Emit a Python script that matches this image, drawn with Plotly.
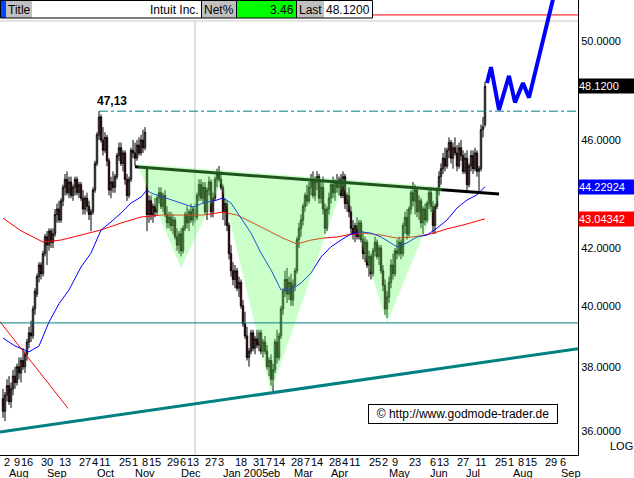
import math
import pandas as pd
import plotly.graph_objects as go

# ---------------- data ----------------
holidays = ["2004-09-06", "2004-11-25", "2004-12-24", "2005-01-17",
            "2005-02-21", "2005-03-25", "2005-05-30", "2005-07-04"]
trading_days = [d.strftime("%Y-%m-%d") for d in pd.bdate_range("2004-07-29", "2005-07-13")
                if d.strftime("%Y-%m-%d") not in holidays]

opens = [
    37.0, 36.6, 37.1, 37.4, 36.9, 37.3, 37.7, 37.5, 38.0, 37.8,
    38.2, 38.0, 38.4, 38.8, 39.1, 39.0, 39.9, 40.4, 41.0, 41.4,
    41.1, 41.8, 42.4, 42.1, 42.6, 42.2, 42.5, 43.2, 43.4, 43.0,
    43.7, 44.2, 44.5, 44.0, 44.4, 43.9, 44.2, 44.5, 44.0, 44.3,
    43.8, 43.4, 43.8, 43.5, 43.2, 43.3, 44.1, 45.1, 46.2, 46.9,
    46.0, 45.6, 46.1, 45.2, 44.1, 44.4, 44.2, 44.6, 45.4, 45.7,
    45.1, 45.5, 44.5, 43.9, 44.5, 45.6, 45.5, 45.3, 45.8, 45.5,
    46.0, 45.7, 44.9, 43.2, 43.7, 43.2, 43.5, 43.3, 43.8, 44.0,
    43.5, 43.9, 43.2, 42.9, 43.1, 42.8, 43.0, 42.4, 42.1, 42.5,
    41.9, 42.7, 43.2, 42.9, 43.3, 43.0, 43.4, 43.1, 43.9, 44.3,
    43.8, 44.2, 43.3, 44.1, 44.4, 43.3, 43.8, 44.5, 44.7, 44.5,
    44.2, 43.3, 43.6, 42.8, 41.8, 41.2, 40.9, 41.2, 40.6, 40.8,
    40.0, 39.4, 39.0, 38.3, 38.5, 39.1, 38.6, 38.9, 38.7, 39.1,
    38.5, 38.8, 38.5, 38.0, 38.2, 37.6, 37.9, 38.8, 38.3, 39.0,
    39.9, 40.5, 40.9, 40.4, 40.8, 40.2, 40.7, 41.2, 42.3, 42.7,
    43.0, 43.5, 43.9, 43.7, 44.2, 44.5, 43.9, 44.4, 44.6, 43.8,
    44.2, 43.4, 42.7, 43.4, 43.8, 44.3, 44.0, 44.4, 44.2, 44.5,
    43.9, 44.6, 43.6, 43.9, 43.3, 42.7, 42.5, 42.8, 42.4, 42.9,
    42.3, 41.8, 42.2, 41.4, 41.7, 41.1, 41.9, 42.2, 41.7, 42.0,
    41.2, 40.7, 39.9, 40.3, 40.8, 41.4, 41.1, 41.9, 41.8, 42.2,
    41.8, 42.8, 43.1, 42.5, 43.4, 44.0, 43.7, 44.1, 43.3, 43.7,
    42.9, 43.4, 43.0, 43.6, 44.0, 43.5, 42.8, 43.5, 44.1, 44.6,
    44.9, 45.3, 45.0, 45.6, 45.9, 45.3, 45.7, 45.5, 45.0, 45.7,
    45.4, 44.8, 45.3, 44.3, 45.0, 45.4, 44.9, 45.5, 44.8, 44.9,
    46.4, 46.6]
highs = [
    37.3, 37.2, 37.6, 37.7, 37.5, 37.9, 38.0, 38.1, 38.3, 38.3,
    38.6, 38.5, 38.9, 39.3, 39.5, 40.0, 40.6, 41.1, 41.5, 41.5,
    41.9, 42.5, 42.6, 42.7, 42.7, 42.7, 43.4, 43.6, 43.7, 43.8,
    44.3, 44.7, 44.8, 44.6, 44.6, 44.3, 44.6, 44.6, 44.4, 44.4,
    44.1, 43.9, 44.0, 43.7, 43.4, 44.2, 45.2, 46.3, 47.13, 47.0,
    46.5, 46.3, 46.2, 45.3, 44.6, 44.8, 44.7, 45.5, 45.9, 45.9,
    45.6, 45.6, 44.7, 44.6, 45.7, 46.0, 45.9, 46.0, 46.1, 46.2,
    46.4, 46.5, 45.0, 43.9, 43.9, 43.6, 43.8, 43.9, 44.2, 44.2,
    44.0, 44.1, 43.5, 43.3, 43.3, 43.2, 43.1, 42.7, 42.6, 42.7,
    42.8, 43.3, 43.5, 43.4, 43.6, 43.5, 43.6, 44.0, 44.5, 44.5,
    44.4, 44.4, 44.2, 44.6, 44.5, 44.0, 44.6, 44.9, 45.0, 44.8,
    44.3, 43.8, 43.7, 42.9, 42.1, 41.5, 41.4, 41.3, 41.0, 40.9,
    40.2, 39.8, 39.3, 38.6, 39.2, 39.2, 39.0, 39.2, 39.2, 39.2,
    38.9, 39.0, 38.7, 38.3, 38.4, 38.1, 38.9, 39.2, 39.1, 40.0,
    40.6, 41.2, 41.3, 41.0, 41.1, 40.9, 41.3, 42.4, 42.9, 43.2,
    43.6, 44.0, 44.3, 44.4, 44.7, 44.8, 44.6, 44.8, 44.7, 44.4,
    44.6, 43.6, 43.5, 44.0, 44.4, 44.6, 44.5, 44.7, 44.6, 44.7,
    44.8, 44.7, 44.0, 44.2, 43.5, 43.0, 42.9, 43.1, 43.0, 43.0,
    42.6, 42.4, 42.3, 41.9, 41.8, 42.0, 42.4, 42.3, 42.1, 42.1,
    41.4, 40.9, 40.5, 41.0, 41.6, 41.8, 42.0, 42.3, 42.4, 42.3,
    42.9, 43.3, 43.4, 43.5, 44.1, 44.4, 44.3, 44.2, 43.9, 43.8,
    43.5, 43.6, 43.7, 44.2, 44.2, 43.7, 43.6, 44.2, 44.8, 45.1,
    45.5, 45.7, 45.7, 46.1, 46.0, 45.9, 46.1, 45.8, 45.9, 46.0,
    45.6, 45.5, 45.6, 45.1, 45.6, 45.6, 45.7, 45.6, 45.0, 46.6,
    46.9, 48.3]
lows = [
    36.4, 36.3, 36.9, 36.8, 36.7, 37.1, 37.3, 37.4, 37.6, 37.5,
    37.9, 37.8, 38.2, 38.6, 38.8, 38.9, 39.7, 40.3, 40.8, 40.9,
    41.0, 41.7, 41.4, 41.9, 42.0, 42.0, 42.4, 42.9, 42.9, 42.9,
    43.5, 43.9, 43.9, 43.8, 43.8, 43.7, 43.9, 43.9, 43.8, 43.7,
    43.2, 43.2, 43.3, 43.0, 42.6, 43.2, 44.0, 45.0, 46.0, 45.9,
    45.4, 45.5, 45.0, 43.9, 43.8, 44.0, 44.0, 44.5, 45.2, 45.0,
    44.8, 44.3, 43.7, 43.8, 44.4, 45.3, 45.0, 45.2, 45.4, 45.4,
    45.5, 45.6, 42.6, 42.9, 43.0, 42.9, 43.1, 43.2, 43.6, 43.4,
    43.3, 43.1, 42.7, 42.7, 42.6, 42.5, 42.3, 41.9, 41.8, 41.7,
    41.8, 42.6, 42.7, 42.6, 42.9, 42.8, 42.9, 43.0, 43.7, 43.7,
    43.6, 43.2, 43.0, 43.9, 43.1, 43.1, 43.7, 44.2, 44.4, 44.1,
    43.0, 42.8, 42.6, 41.6, 41.0, 40.7, 40.6, 40.5, 40.3, 39.9,
    39.3, 38.9, 38.2, 38.0, 38.4, 38.5, 38.4, 38.6, 38.5, 38.4,
    38.3, 38.4, 37.9, 37.7, 37.4, 37.2, 37.8, 38.1, 38.2, 38.9,
    39.7, 40.3, 40.1, 40.2, 40.0, 40.0, 40.5, 41.1, 42.0, 42.4,
    42.8, 43.3, 43.5, 43.6, 43.9, 43.8, 43.7, 44.1, 43.6, 43.6,
    43.2, 42.5, 42.6, 43.2, 43.6, 43.8, 43.7, 44.0, 43.9, 43.8,
    43.8, 43.4, 43.3, 43.1, 42.5, 42.3, 42.2, 42.3, 42.3, 42.2,
    41.6, 41.5, 41.3, 41.0, 40.9, 41.0, 41.7, 41.6, 41.4, 41.1,
    40.5, 39.7, 39.6, 40.1, 40.6, 40.9, 41.0, 41.6, 41.7, 41.6,
    41.7, 42.5, 42.3, 42.4, 43.2, 43.5, 43.2, 43.1, 43.0, 42.7,
    42.5, 42.8, 42.9, 43.4, 43.3, 42.5, 42.5, 43.4, 43.9, 44.3,
    44.7, 44.8, 44.9, 45.3, 45.1, 44.9, 45.4, 44.8, 44.9, 45.2,
    44.7, 44.7, 44.1, 44.2, 44.8, 44.7, 44.8, 44.6, 44.0, 44.8,
    46.1, 46.5]
closes = [
    36.6, 37.1, 37.4, 36.9, 37.3, 37.7, 37.5, 38.0, 37.8, 38.2,
    38.0, 38.4, 38.8, 39.1, 39.0, 39.9, 40.5, 41.0, 41.4, 41.1,
    41.8, 42.4, 42.1, 42.6, 42.2, 42.5, 43.2, 43.4, 43.0, 43.7,
    44.2, 44.5, 44.0, 44.4, 43.9, 44.2, 44.5, 44.0, 44.3, 43.8,
    43.4, 43.8, 43.5, 43.2, 43.3, 44.1, 45.1, 46.2, 46.9, 46.0,
    45.6, 46.1, 45.2, 44.1, 44.4, 44.2, 44.6, 45.4, 45.7, 45.1,
    45.5, 44.5, 43.9, 44.5, 45.6, 45.5, 45.3, 45.8, 45.5, 46.0,
    45.7, 46.3, 43.2, 43.7, 43.2, 43.5, 43.3, 43.8, 44.0, 43.5,
    43.9, 43.2, 42.9, 43.1, 42.8, 43.0, 42.4, 42.1, 42.5, 41.9,
    42.7, 43.2, 42.9, 43.3, 43.0, 43.4, 43.1, 43.9, 44.3, 43.8,
    44.2, 43.3, 44.1, 44.4, 43.3, 43.8, 44.5, 44.7, 44.5, 44.2,
    43.3, 43.6, 42.8, 41.8, 41.2, 40.9, 41.2, 40.6, 40.8, 40.0,
    39.4, 39.0, 38.3, 38.5, 39.1, 38.6, 38.9, 38.7, 39.1, 38.5,
    38.8, 38.5, 38.0, 38.2, 37.6, 37.9, 38.8, 38.3, 39.0, 39.9,
    40.5, 40.9, 40.4, 40.8, 40.2, 40.7, 41.2, 42.3, 42.7, 43.0,
    43.5, 43.9, 43.7, 44.2, 44.5, 43.9, 44.4, 44.6, 43.8, 44.2,
    43.4, 42.7, 43.4, 43.8, 44.3, 44.0, 44.4, 44.2, 44.5, 43.9,
    44.6, 43.6, 43.9, 43.3, 42.7, 42.5, 42.8, 42.4, 42.9, 42.3,
    41.8, 42.2, 41.4, 41.7, 41.1, 41.9, 42.2, 41.7, 42.0, 41.2,
    40.7, 39.9, 40.3, 40.8, 41.4, 41.1, 41.9, 41.8, 42.2, 41.8,
    42.8, 43.1, 42.5, 43.4, 44.0, 43.7, 44.1, 43.3, 43.7, 42.9,
    43.4, 43.0, 43.6, 44.0, 43.5, 42.8, 43.5, 44.1, 44.6, 44.9,
    45.3, 45.0, 45.6, 45.9, 45.3, 45.7, 45.5, 45.0, 45.7, 45.4,
    44.8, 45.3, 44.3, 45.0, 45.4, 44.9, 45.5, 44.8, 44.9, 46.4,
    46.51, 48.12]

ma200_dates = ["2004-07-29", "2004-08-11", "2004-08-26", "2004-09-09", "2004-09-23", "2004-10-07",
               "2004-10-21", "2004-11-04", "2004-11-18", "2004-12-03", "2004-12-20", "2005-01-04",
               "2005-01-13", "2005-01-25", "2005-02-04", "2005-02-16", "2005-02-28", "2005-03-09",
               "2005-03-17", "2005-03-29", "2005-04-05", "2005-04-15", "2005-04-28", "2005-05-10",
               "2005-05-20", "2005-06-03", "2005-06-15", "2005-06-27", "2005-07-13"]
ma200_vals = [43.07, 42.61, 42.21, 42.28, 42.46, 42.64, 42.89, 43.11, 43.18, 43.18, 43.18, 43.29,
              43.18, 42.93, 42.64, 42.35, 42.14, 42.28, 42.35, 42.39, 42.46, 42.53, 42.46, 42.35,
              42.39, 42.50, 42.68, 42.82, 43.04342]

ma50_dates = ["2004-07-29", "2004-08-06", "2004-08-17", "2004-08-24", "2004-08-31", "2004-09-08",
              "2004-09-15", "2004-09-23", "2004-09-30", "2004-10-07", "2004-10-14", "2004-10-21",
              "2004-10-28", "2004-11-04", "2004-11-09", "2004-11-11", "2004-11-19", "2004-12-01",
              "2004-12-13", "2004-12-20", "2004-12-30", "2005-01-04", "2005-01-10", "2005-01-18",
              "2005-01-25", "2005-02-01", "2005-02-08", "2005-02-15", "2005-02-23", "2005-03-02",
              "2005-03-09", "2005-03-16", "2005-03-23", "2005-03-31", "2005-04-07", "2005-04-14",
              "2005-04-21", "2005-04-28", "2005-05-05", "2005-05-10", "2005-05-17", "2005-05-24",
              "2005-06-01", "2005-06-08", "2005-06-15", "2005-06-22", "2005-06-29", "2005-07-07",
              "2005-07-13"]
ma50_vals = [38.93, 38.67, 38.48, 38.67, 39.46, 40.07, 40.54, 41.33, 41.82, 42.64, 42.93, 43.25,
             43.62, 43.84, 44.10, 43.99, 43.84, 43.66, 43.47, 43.62, 43.73, 43.81, 43.62, 43.07,
             42.53, 41.82, 41.23, 40.54, 40.54, 40.78, 41.12, 41.68, 42.04, 42.28, 42.50, 42.57,
             42.53, 42.39, 42.18, 42.04, 42.18, 42.39, 42.46, 42.71, 43.00, 43.44, 43.73, 43.92,
             44.22924]

# inverse head & shoulders formation
neck_dates = ["2004-11-01", "2005-07-22"]
neck_vals = [44.97, 43.95]
shade_dates = ["2004-11-02", "2004-12-03", "2005-01-03", "2005-02-08", "2005-04-01",
               "2005-05-03", "2005-06-13", "2004-11-02"]
shade_vals = [45.08, 41.30, 44.36, 37.21, 44.29, 39.43, 44.21, 45.08]

support_dates = ["2004-07-27 12:00", "2005-09-15 12:00"]
support_vals = [35.97, 38.58]
down_dates = ["2004-07-27 12:00", "2004-09-14 12:00"]
down_vals = [39.47, 36.69]
hline_teal = 39.43
hline_red = 51.11
hline_gray = 50.85
high_date = "2004-10-06"
high_val = 47.13
vline_date = "2004-12-14"

proj_dates = ["2005-07-14", "2005-07-18", "2005-07-22", "2005-07-29", "2005-08-03",
              "2005-08-09", "2005-08-12", "2005-08-31"]
proj_vals = [48.26, 48.91, 47.18, 48.55, 47.48, 48.26, 47.67, 52.15]

x_start, x_end = "2004-07-27 12:00", "2005-09-15 12:00"
y_low, y_high = 35.277, 51.757

tick_dates = ["2004-08-02", "2004-08-09", "2004-08-16", "2004-08-30", "2004-09-13", "2004-09-27",
              "2004-10-04", "2004-10-11", "2004-10-25", "2004-11-01", "2004-11-08", "2004-11-15",
              "2004-11-29", "2004-12-06", "2004-12-13", "2004-12-27", "2005-01-03", "2005-01-18",
              "2005-01-31", "2005-02-07", "2005-02-14", "2005-02-28", "2005-03-07", "2005-03-14",
              "2005-03-28", "2005-04-04", "2005-04-11", "2005-04-25", "2005-05-02", "2005-05-09",
              "2005-05-23", "2005-06-06", "2005-06-13", "2005-06-27", "2005-07-11", "2005-07-25",
              "2005-08-01", "2005-08-08", "2005-08-15", "2005-08-29", "2005-09-06"]
tick_text = ["2", "9", "16", "30", "13", "27", "4", "11", "25", "1", "8", "15", "29", "6", "13",
             "27", "3", "18", "31", "7", "14", "28", "7", "14", "28", "4", "11", "25", "2", "9",
             "23", "6", "13", "27", "11", "25", "1", "8", "15", "29", "6"]
month_dates = ["2004-08-10", "2004-09-07", "2004-10-11", "2004-11-08", "2004-12-10",
               "2005-01-20", "2005-02-09 12:00", "2005-03-03", "2005-03-30", "2005-05-11",
               "2005-06-09", "2005-07-05", "2005-08-09", "2005-09-12"]
month_text = ["Aug", "Sep", "Oct", "Nov", "Dec", "Jan 2005", "eb", "Mar", "Apr", "May", "Jun",
              "Jul", "Aug", "Sep"]
ytick_vals = [36, 38, 40, 42, 46, 50]
ytick_text = ["36.0000", "38.0000", "40.0000", "42.0000", "46.0000", "50.0000"]

assert len(trading_days) == len(opens) == len(highs) == len(lows) == len(closes)

# ---------------- figure ----------------
FONT = "Liberation Sans, Arial, sans-serif"
W, H = 634, 478
ML, MR, MT, MB = 0, 56, 0, 23
PW, PH = W - ML - MR, H - MT - MB


def px(x):
    return x / PW


def py(y):
    return 1 - y / PH


fig = go.Figure()

fig.add_trace(go.Candlestick(
    x=trading_days, open=opens, high=highs, low=lows, close=closes,
    increasing=dict(line=dict(color="black", width=1), fillcolor="white"),
    decreasing=dict(line=dict(color="black", width=1), fillcolor="#dd0000"),
    whiskerwidth=0, showlegend=False, hoverinfo="skip"))


def line(x, y, color, width=1, dash="solid"):
    fig.add_trace(go.Scatter(x=x, y=y, mode="lines", line=dict(color=color, width=width, dash=dash),
                             showlegend=False, hoverinfo="skip"))


line([vline_date, vline_date], [y_low * 0.99, hline_gray], "#c0c0c0", 1)
line(ma200_dates, ma200_vals, "#ff0000", 1)
line(ma50_dates, ma50_vals, "#0000ff", 1)
line(neck_dates, neck_vals, "black", 3)
line(down_dates, down_vals, "#ff0000", 1)

fig.add_trace(go.Scatter(x=shade_dates, y=shade_vals, mode="none", fill="toself",
                         fillcolor="rgba(95,255,95,0.33)", showlegend=False, hoverinfo="skip"))

line([x_start, x_end], [hline_teal, hline_teal], "#008080", 1)
line([x_start, x_end], [hline_gray, hline_gray], "#c8c8c8", 1)
line([x_start, x_end], [hline_red, hline_red], "#ff0000", 1)
line([high_date, x_end], [high_val, high_val], "#008080", 1, "dashdot")
line(support_dates, support_vals, "#008080", 3)
line(proj_dates, proj_vals, "#0000ff", 4)

shapes = []
annotations = []

# header bar
hdr = [(0, 6, "#0044ff"), (6, 32, "#c0c0c0"), (32, 201, "white"), (202, 236, "#c0c0c0"),
       (237, 296, "#00ff00"), (297, 324, "#c0c0c0"), (324, 372, "white")]
for x0, x1, c in hdr:
    shapes.append(dict(type="rect", xref="paper", yref="paper", x0=px(x0), x1=px(x1),
                       y0=py(18), y1=py(0), fillcolor=c, line=dict(width=0), layer="above"))
for xs in [201.5, 236.5, 296.5]:
    shapes.append(dict(type="line", xref="paper", yref="paper", x0=px(xs), x1=px(xs),
                       y0=py(18), y1=py(0), line=dict(color="black", width=1), layer="above"))
shapes.append(dict(type="rect", xref="paper", yref="paper", x0=px(0.5), x1=px(372.5),
                   y0=py(18), y1=py(0.5), line=dict(color="black", width=1), layer="above"))

for txt, x, anc in [("Title", 7, "left"), ("Intuit Inc.", 200, "right"), ("Net%", 203, "left"),
                    ("3.46", 295, "right"), ("Last", 298, "left"), ("48.1200", 325, "left")]:
    annotations.append(dict(text=txt, x=px(x), y=py(9.5), xref="paper", yref="paper",
                            xanchor=anc, yanchor="middle", showarrow=False,
                            font=dict(family=FONT, size=12, color="black"), borderpad=0))

# right value boxes
for val, txt, bg in [(48.12, "48.1200", "black"), (44.22924, "44.22924", "#0000ff"),
                     (43.04342, "43.04342", "#ff0000")]:
    annotations.append(dict(text=txt, x=1.0, y=math.log10(val), xref="paper", yref="y",
                            xanchor="left", yanchor="middle", showarrow=False, align="left",
                            width=55, height=14, bgcolor=bg, borderpad=0,
                            font=dict(family=FONT, size=11, color="white")))

annotations.append(dict(text="LOG", x=px(621), y=py(446), xref="paper", yref="paper",
                        xanchor="center", yanchor="middle", showarrow=False,
                        font=dict(family=FONT, size=11, color="black")))

annotations.append(dict(text="<b>47,13</b>", x="2004-10-14 12:00", y=math.log10(47.54),
                        xref="x", yref="y", showarrow=False, xanchor="center", yanchor="middle",
                        font=dict(family=FONT, size=12, color="black")))

annotations.append(dict(text="© http://www.godmode-trader.de", x=px(462.5), y=py(413.5),
                        xref="paper", yref="paper", showarrow=False, xanchor="center",
                        yanchor="middle", bgcolor="white", bordercolor="black", borderwidth=1,
                        borderpad=2, width=184,
                        font=dict(family=FONT, size=12, color="black")))

for d, t in zip(month_dates, month_text):
    annotations.append(dict(text=t, x=d, y=py(472.5), xref="x", yref="paper", showarrow=False,
                            xanchor="center", yanchor="middle", borderpad=0,
                            font=dict(family=FONT, size=11, color="black")))

fig.update_layout(
    template="none",
    width=W, height=H,
    margin=dict(l=ML, r=MR, t=MT, b=MB, pad=0),
    paper_bgcolor="white", plot_bgcolor="white",
    showlegend=False, boxgap=0,
    shapes=shapes, annotations=annotations,
    xaxis=dict(type="date", range=[x_start, x_end],
               rangebreaks=[dict(bounds=["sat", "mon"]), dict(values=holidays)],
               rangeslider=dict(visible=False), showgrid=False, zeroline=False,
               showline=True, linecolor="black", linewidth=1, mirror=False,
               tickmode="array", tickvals=tick_dates, ticktext=tick_text, ticks="",
               tickangle=0, automargin=False, ticklabelstandoff=-3,
               tickfont=dict(family=FONT, size=11, color="black")),
    yaxis=dict(type="log", side="right", range=[math.log10(y_low), math.log10(y_high)],
               showgrid=False, zeroline=False, showline=True, linecolor="black", linewidth=1,
               tickmode="array", tickvals=ytick_vals, ticktext=ytick_text, ticks="",
               automargin=False,
               tickfont=dict(family=FONT, size=11, color="black")),
)

fig.write_html("out.html", config={"displayModeBar": False},
               post_script="document.body.style.margin='0px';document.body.style.overflow='hidden';")
